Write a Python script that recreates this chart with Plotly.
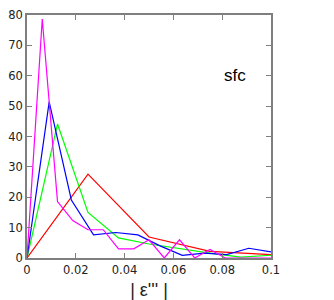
import plotly.graph_objects as go

# Data
x_magenta = [0, 0.00625, 0.0125, 0.01875, 0.025, 0.03125, 0.0375, 0.04375, 0.05,
             0.05625, 0.0625, 0.06875, 0.075, 0.08125, 0.0875, 0.09375, 0.1]
y_magenta = [0, 78.7, 18.6, 12.3, 9.3, 9.3, 3.0, 3.0, 6.0, 0, 6.0, 0, 2.8, 0, 0, 0, 0]

x_blue = [0, 0.00909, 0.01818, 0.02727, 0.03636, 0.04545, 0.05455, 0.06364,
          0.07273, 0.08182, 0.09091, 0.1]
y_blue = [0, 51.4, 19.1, 7.6, 8.4, 7.6, 4.0, 0.9, 1.6, 1.1, 3.2, 2.0]

x_green = [0, 0.0125, 0.025, 0.0375, 0.05, 0.0625, 0.075, 0.0875, 0.1]
y_green = [0, 44.1, 15.0, 6.6, 4.6, 3.0, 1.6, 0.3, 0.9]

x_red = [0, 0.025, 0.05, 0.075, 0.1]
y_red = [0, 27.6, 6.9, 2.2, 1.1]

x_tickvals = [0, 0.02, 0.04, 0.06, 0.08, 0.1]
x_ticktext = ["0", "0.02", "0.04", "0.06", "0.08", "0.1"]
y_tickvals = [0, 10, 20, 30, 40, 50, 60, 70, 80]
y_ticktext = ["0", "10", "20", "30", "40", "50", "60", "70", "80"]

series = [
    (x_red, y_red, "#ff0000"),
    (x_green, y_green, "#00ff00"),
    (x_blue, y_blue, "#0000ff"),
    (x_magenta, y_magenta, "#ff00ff"),
]

fig = go.Figure()
for xs, ys, c in series:
    fig.add_trace(go.Scatter(x=xs, y=ys, mode="lines",
                             line=dict(color=c, width=1.2),
                             showlegend=False, hoverinfo="skip"))

axis_common = dict(showgrid=False, zeroline=False, showline=True,
                   linecolor="#7f7f7f", linewidth=1.5, mirror="ticks",
                   ticks="inside", ticklen=5, tickcolor="#7f7f7f", tickwidth=1,
                   automargin=False,
                   tickfont=dict(family="DejaVu Sans", size=11.5, color="#222222"))

# The page body adds an 8px offset, so the figure is 8px smaller and margins shifted.
fig.update_layout(
    width=326, height=292,
    margin=dict(l=19, r=63, t=7, b=42),
    paper_bgcolor="white", plot_bgcolor="white",
    xaxis=dict(range=[0, 0.1], tickvals=x_tickvals, ticktext=x_ticktext,
               title=dict(text="| ε''' |", font=dict(family="Liberation Sans", size=18, color="#222222"),
                          standoff=11),
               **axis_common),
    yaxis=dict(range=[0, 80], tickvals=y_tickvals, ticktext=y_ticktext,
               **axis_common),
    annotations=[dict(x=0.0854, y=60, xref="x", yref="y", text="sfc",
                      showarrow=False,
                      font=dict(family="Liberation Sans", size=17, color="#000000"))],
)

fig.write_html("out.html")
